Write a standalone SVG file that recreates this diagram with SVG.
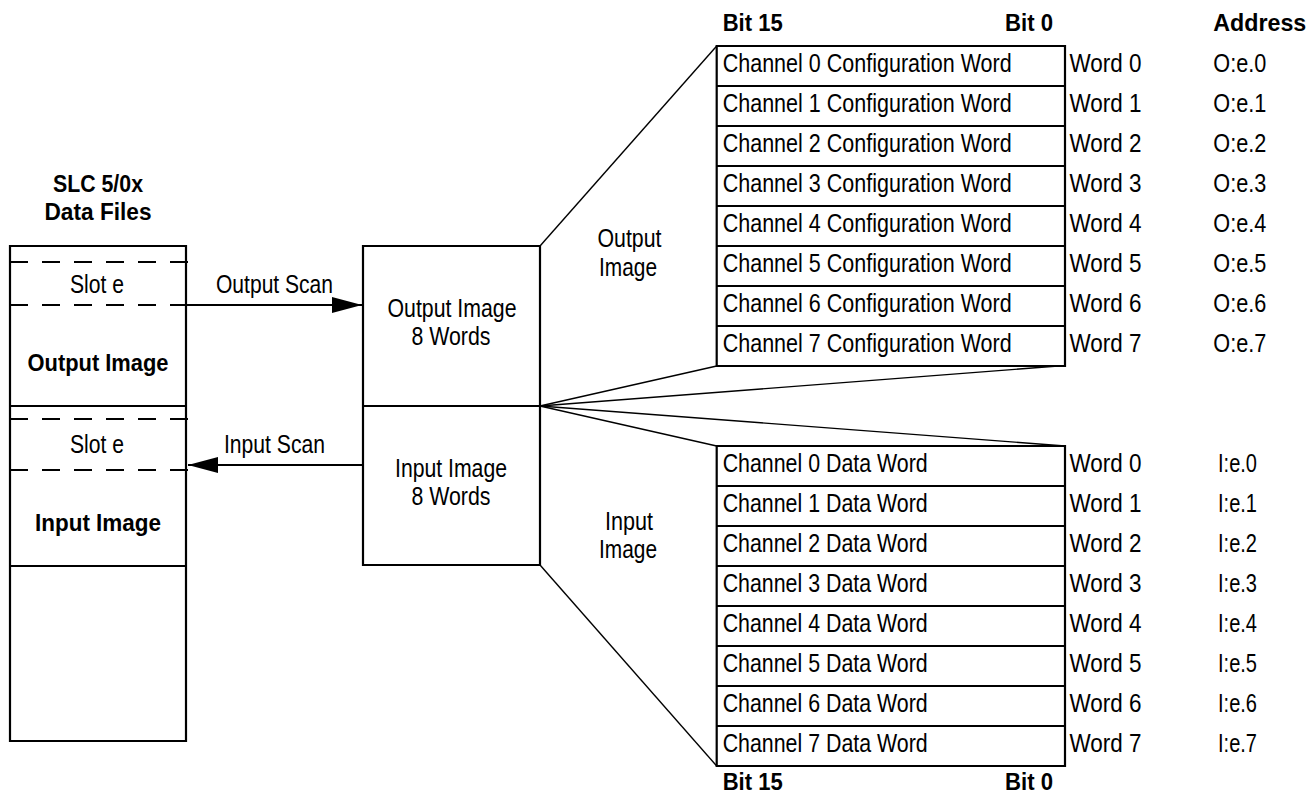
<svg xmlns="http://www.w3.org/2000/svg" width="1316" height="795" viewBox="0 0 1316 795">
<style>
text{font-family:"Liberation Sans",Arial,sans-serif;font-size:25px;fill:#000}
.b{font-weight:bold;font-size:24px}
.m{text-anchor:middle}
.box{fill:none;stroke:#000;stroke-width:2.2}
.dash{fill:none;stroke:#000;stroke-width:2;stroke-dasharray:18 14}
.fan{fill:none;stroke:#000;stroke-width:1.4}
.arr{fill:none;stroke:#000;stroke-width:2;marker-end:url(#ah)}
</style>
<defs>
<marker id="ah" viewBox="0 0 30 16" refX="30" refY="8" markerWidth="30" markerHeight="16" markerUnits="userSpaceOnUse" orient="auto">
<path d="M0,0 L30,8 L0,16 Z" fill="#000"/>
</marker>
</defs>
<rect width="1316" height="795" fill="#fff"/>

<g id="slc-title">
<text class="b m" x="98" y="192" textLength="90" lengthAdjust="spacingAndGlyphs">SLC 5/0x</text>
<text class="b m" x="98" y="220" textLength="107" lengthAdjust="spacingAndGlyphs">Data Files</text>
</g>

<g id="slc-data-files">
<path class="box" d="M10,741 V246 H186 V741 H10 Z M10,406 H186 M10,566 H186"/>
<line class="dash" x1="10" y1="262" x2="188" y2="262"/>
<line class="dash" x1="10" y1="305" x2="188" y2="305"/>
<line class="dash" x1="10" y1="419" x2="188" y2="419"/>
<line class="dash" x1="10" y1="470" x2="188" y2="470"/>
<text class="m" x="97" y="293" textLength="54" lengthAdjust="spacingAndGlyphs">Slot e</text>
<text class="b m" x="98" y="371" textLength="141" lengthAdjust="spacingAndGlyphs">Output Image</text>
<text class="m" x="97" y="453" textLength="54" lengthAdjust="spacingAndGlyphs">Slot e</text>
<text class="b m" x="98" y="531" textLength="126" lengthAdjust="spacingAndGlyphs">Input Image</text>
</g>

<g id="module-image">
<path class="box" d="M363,246 H540 V565 H363 Z M363,406 H540"/>
<text class="m" x="452" y="317" textLength="129" lengthAdjust="spacingAndGlyphs">Output Image</text>
<text class="m" x="451" y="345" textLength="79" lengthAdjust="spacingAndGlyphs">8 Words</text>
<text class="m" x="451" y="477" textLength="112" lengthAdjust="spacingAndGlyphs">Input Image</text>
<text class="m" x="451" y="505" textLength="79" lengthAdjust="spacingAndGlyphs">8 Words</text>
</g>

<g id="labels-mid">
<text class="m" x="629.5" y="247" textLength="64" lengthAdjust="spacingAndGlyphs">Output</text>
<text class="m" x="628" y="276" textLength="58" lengthAdjust="spacingAndGlyphs">Image</text>
<text class="m" x="629" y="530" textLength="48" lengthAdjust="spacingAndGlyphs">Input</text>
<text class="m" x="628" y="558" textLength="58" lengthAdjust="spacingAndGlyphs">Image</text>
</g>

<g id="headers">
<text class="b" x="722.7" y="31" textLength="60" lengthAdjust="spacingAndGlyphs">Bit 15</text>
<text class="b" x="1005" y="31" textLength="48" lengthAdjust="spacingAndGlyphs">Bit 0</text>
<text class="b" x="1213.3" y="31" textLength="93" lengthAdjust="spacingAndGlyphs">Address</text>
<text class="b" x="722.7" y="790" textLength="60" lengthAdjust="spacingAndGlyphs">Bit 15</text>
<text class="b" x="1005" y="790" textLength="48" lengthAdjust="spacingAndGlyphs">Bit 0</text>
</g>

<g id="output-table">
<path class="box" d="M716.7,46 H1065 V366 H716.7 Z M716.7,86 H1065 M716.7,126 H1065 M716.7,166 H1065 M716.7,206 H1065 M716.7,246 H1065 M716.7,286 H1065 M716.7,326 H1065"/>
<text x="722.7" y="72" textLength="289" lengthAdjust="spacingAndGlyphs">Channel 0 Configuration Word</text>
<text x="722.7" y="112" textLength="289" lengthAdjust="spacingAndGlyphs">Channel 1 Configuration Word</text>
<text x="722.7" y="152" textLength="289" lengthAdjust="spacingAndGlyphs">Channel 2 Configuration Word</text>
<text x="722.7" y="192" textLength="289" lengthAdjust="spacingAndGlyphs">Channel 3 Configuration Word</text>
<text x="722.7" y="232" textLength="289" lengthAdjust="spacingAndGlyphs">Channel 4 Configuration Word</text>
<text x="722.7" y="272" textLength="289" lengthAdjust="spacingAndGlyphs">Channel 5 Configuration Word</text>
<text x="722.7" y="312" textLength="289" lengthAdjust="spacingAndGlyphs">Channel 6 Configuration Word</text>
<text x="722.7" y="352" textLength="289" lengthAdjust="spacingAndGlyphs">Channel 7 Configuration Word</text>
<text x="1069.5" y="72" textLength="72" lengthAdjust="spacingAndGlyphs">Word 0</text>
<text x="1069.5" y="112" textLength="72" lengthAdjust="spacingAndGlyphs">Word 1</text>
<text x="1069.5" y="152" textLength="72" lengthAdjust="spacingAndGlyphs">Word 2</text>
<text x="1069.5" y="192" textLength="72" lengthAdjust="spacingAndGlyphs">Word 3</text>
<text x="1069.5" y="232" textLength="72" lengthAdjust="spacingAndGlyphs">Word 4</text>
<text x="1069.5" y="272" textLength="72" lengthAdjust="spacingAndGlyphs">Word 5</text>
<text x="1069.5" y="312" textLength="72" lengthAdjust="spacingAndGlyphs">Word 6</text>
<text x="1069.5" y="352" textLength="72" lengthAdjust="spacingAndGlyphs">Word 7</text>
<text x="1213.3" y="72" textLength="53" lengthAdjust="spacingAndGlyphs">O:e.0</text>
<text x="1213.3" y="112" textLength="53" lengthAdjust="spacingAndGlyphs">O:e.1</text>
<text x="1213.3" y="152" textLength="53" lengthAdjust="spacingAndGlyphs">O:e.2</text>
<text x="1213.3" y="192" textLength="53" lengthAdjust="spacingAndGlyphs">O:e.3</text>
<text x="1213.3" y="232" textLength="53" lengthAdjust="spacingAndGlyphs">O:e.4</text>
<text x="1213.3" y="272" textLength="53" lengthAdjust="spacingAndGlyphs">O:e.5</text>
<text x="1213.3" y="312" textLength="53" lengthAdjust="spacingAndGlyphs">O:e.6</text>
<text x="1213.3" y="352" textLength="53" lengthAdjust="spacingAndGlyphs">O:e.7</text>
</g>

<g id="input-table">
<path class="box" d="M716.7,446 H1065 V766 H716.7 Z M716.7,486 H1065 M716.7,526 H1065 M716.7,566 H1065 M716.7,606 H1065 M716.7,646 H1065 M716.7,686 H1065 M716.7,726 H1065"/>
<text x="722.7" y="472" textLength="205" lengthAdjust="spacingAndGlyphs">Channel 0 Data Word</text>
<text x="722.7" y="512" textLength="205" lengthAdjust="spacingAndGlyphs">Channel 1 Data Word</text>
<text x="722.7" y="552" textLength="205" lengthAdjust="spacingAndGlyphs">Channel 2 Data Word</text>
<text x="722.7" y="592" textLength="205" lengthAdjust="spacingAndGlyphs">Channel 3 Data Word</text>
<text x="722.7" y="632" textLength="205" lengthAdjust="spacingAndGlyphs">Channel 4 Data Word</text>
<text x="722.7" y="672" textLength="205" lengthAdjust="spacingAndGlyphs">Channel 5 Data Word</text>
<text x="722.7" y="712" textLength="205" lengthAdjust="spacingAndGlyphs">Channel 6 Data Word</text>
<text x="722.7" y="752" textLength="205" lengthAdjust="spacingAndGlyphs">Channel 7 Data Word</text>
<text x="1069.5" y="472" textLength="72" lengthAdjust="spacingAndGlyphs">Word 0</text>
<text x="1069.5" y="512" textLength="72" lengthAdjust="spacingAndGlyphs">Word 1</text>
<text x="1069.5" y="552" textLength="72" lengthAdjust="spacingAndGlyphs">Word 2</text>
<text x="1069.5" y="592" textLength="72" lengthAdjust="spacingAndGlyphs">Word 3</text>
<text x="1069.5" y="632" textLength="72" lengthAdjust="spacingAndGlyphs">Word 4</text>
<text x="1069.5" y="672" textLength="72" lengthAdjust="spacingAndGlyphs">Word 5</text>
<text x="1069.5" y="712" textLength="72" lengthAdjust="spacingAndGlyphs">Word 6</text>
<text x="1069.5" y="752" textLength="72" lengthAdjust="spacingAndGlyphs">Word 7</text>
<text x="1218" y="472" textLength="39" lengthAdjust="spacingAndGlyphs">I:e.0</text>
<text x="1218" y="512" textLength="39" lengthAdjust="spacingAndGlyphs">I:e.1</text>
<text x="1218" y="552" textLength="39" lengthAdjust="spacingAndGlyphs">I:e.2</text>
<text x="1218" y="592" textLength="39" lengthAdjust="spacingAndGlyphs">I:e.3</text>
<text x="1218" y="632" textLength="39" lengthAdjust="spacingAndGlyphs">I:e.4</text>
<text x="1218" y="672" textLength="39" lengthAdjust="spacingAndGlyphs">I:e.5</text>
<text x="1218" y="712" textLength="39" lengthAdjust="spacingAndGlyphs">I:e.6</text>
<text x="1218" y="752" textLength="39" lengthAdjust="spacingAndGlyphs">I:e.7</text>
</g>

<g id="connectors">
<line class="arr" x1="186" y1="305" x2="362" y2="305"/>
<line class="arr" x1="363" y1="465" x2="188" y2="465"/>
<text x="216" y="293" textLength="117" lengthAdjust="spacingAndGlyphs">Output Scan</text>
<text x="224" y="453" textLength="101" lengthAdjust="spacingAndGlyphs">Input Scan</text>
<line class="fan" x1="540" y1="246" x2="716.7" y2="46"/>
<line class="fan" x1="540" y1="406" x2="716.7" y2="366"/>
<line class="fan" x1="540" y1="406" x2="1058" y2="366"/>
<line class="fan" x1="540" y1="406" x2="1065" y2="446"/>
<line class="fan" x1="540" y1="406" x2="716.7" y2="446"/>
<line class="fan" x1="540" y1="565" x2="716.7" y2="766"/>
</g>
</svg>
